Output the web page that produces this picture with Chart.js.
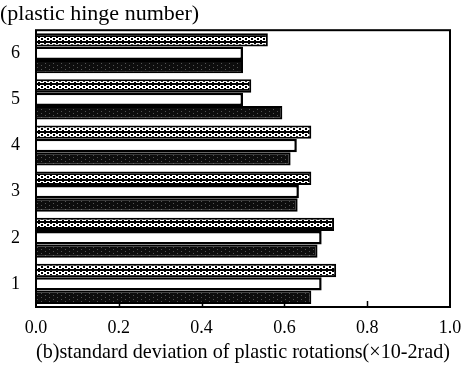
<!DOCTYPE html>
<html lang="en">
<head>
  <meta charset="UTF-8">
  <title>Plastic rotations</title>
  <script src="https://cdn.jsdelivr.net/npm/chart.js"></script>
  <style>
    body {
      margin: 0;
      padding: 0;
      background: #fff;
    }
    #wrap {
      width: 476px;
      height: 369px;
    }
  </style>
</head>
<body>
  <div id="wrap"><canvas id="chart" width="476" height="369"></canvas></div>

  <script>
    // hinge numbers, top to bottom
    const hinges = ['6', '5', '4', '3', '2', '1'];
    const seriesA = [0.56, 0.52, 0.665, 0.665, 0.72, 0.725];  // hatched
    const seriesB = [0.50, 0.50, 0.63, 0.635, 0.69, 0.69];    // white
    const seriesC = [0.50, 0.595, 0.615, 0.632, 0.68, 0.665]; // black
    const xTicks = [0, 0.2, 0.4, 0.6, 0.8, 1.0];

    const serif = "'Liberation Serif', 'DejaVu Serif', serif";

    // crosshatch fill for the first series
    function makeHatch() {
      const c = document.createElement('canvas');
      c.width = 6; c.height = 6;
      const g = c.getContext('2d');
      g.fillStyle = '#000';
      g.fillRect(0, 0, 6, 6);
      g.fillStyle = '#fff';
      [[0,1],[1,1],[1,2],[2,2],[2,3],[1,3],[1,4],[0,4],
       [4,1],[5,1],[4,2],[3,2],[3,3],[4,3],[4,4],[5,4]].forEach(p => g.fillRect(p[0], p[1], 1, 1));
      return g.createPattern(c, 'repeat');
    }

    // dark fill with faint speckle for the third series
    function makeSpeckle() {
      const c = document.createElement('canvas');
      c.width = 8; c.height = 4;
      const g = c.getContext('2d');
      g.fillStyle = '#0d0d0d';
      g.fillRect(0, 0, 8, 4);
      g.fillStyle = '#555';
      g.fillRect(1, 1, 1, 1);
      g.fillRect(5, 3, 1, 1);
      return g.createPattern(c, 'repeat');
    }

    const frame = {
      id: 'frame',
      afterDatasetsDraw(chart) {
        const { ctx, chartArea: a, scales: { x } } = chart;
        ctx.save();
        ctx.strokeStyle = '#000';
        ctx.lineWidth = 2;
        ctx.strokeRect(a.left, a.top, a.right - a.left, a.bottom - a.top);
        ctx.lineWidth = 1.5;
        xTicks.slice(1, -1).forEach(v => {
          const px = Math.round(x.getPixelForValue(v)) + 0.5;
          ctx.beginPath();
          ctx.moveTo(px, a.bottom);
          ctx.lineTo(px, a.bottom - 6);
          ctx.stroke();
        });
        ctx.restore();
      }
    };

    const ctx = document.getElementById('chart').getContext('2d');

    new Chart(ctx, {
      type: 'bar',
      data: {
        labels: hinges,
        datasets: [
          { data: seriesA, backgroundColor: makeHatch(), borderColor: '#000', borderWidth: 2 },
          { data: seriesB, backgroundColor: '#fff', borderColor: '#000', borderWidth: 2.5 },
          { data: seriesC, backgroundColor: makeSpeckle(), borderColor: '#000', borderWidth: 2 }
        ]
      },
      options: {
        indexAxis: 'y',
        responsive: false,
        animation: false,
        layout: { padding: { left: 0, right: 26, top: 0, bottom: 0 } },
        datasets: {
          bar: { categoryPercentage: 0.87, barPercentage: 1 }
        },
        plugins: {
          legend: { display: false },
          tooltip: { enabled: false },
          title: {
            display: true,
            text: '(plastic hinge number)',
            align: 'start',
            color: '#000',
            font: { family: serif, size: 22, weight: 'normal', lineHeight: 1.1 },
            padding: { top: 2, bottom: 4 }
          }
        },
        scales: {
          x: {
            min: 0,
            max: 1,
            afterBuildTicks(scale) {
              scale.ticks = xTicks.map(v => ({ value: v }));
            },
            afterFit(scale) { scale.height = 62; },
            grid: { display: false },
            border: { display: false },
            ticks: {
              color: '#000',
              font: { family: serif, size: 18 },
              padding: 2,
              callback: v => Number(v).toFixed(1)
            },
            title: {
              display: true,
              text: '(b)standard deviation of plastic rotations(\u00d710-2rad)',
              color: '#000',
              font: { family: serif, size: 21 },
              padding: { top: 0, bottom: 4 }
            }
          },
          y: {
            afterFit(scale) { scale.width = 36; },
            grid: { display: false },
            border: { display: false },
            ticks: {
              color: '#000',
              font: { family: serif, size: 18 },
              padding: 8
            }
          }
        }
      },
      plugins: [frame]
    });
  </script>
</body>
</html>
